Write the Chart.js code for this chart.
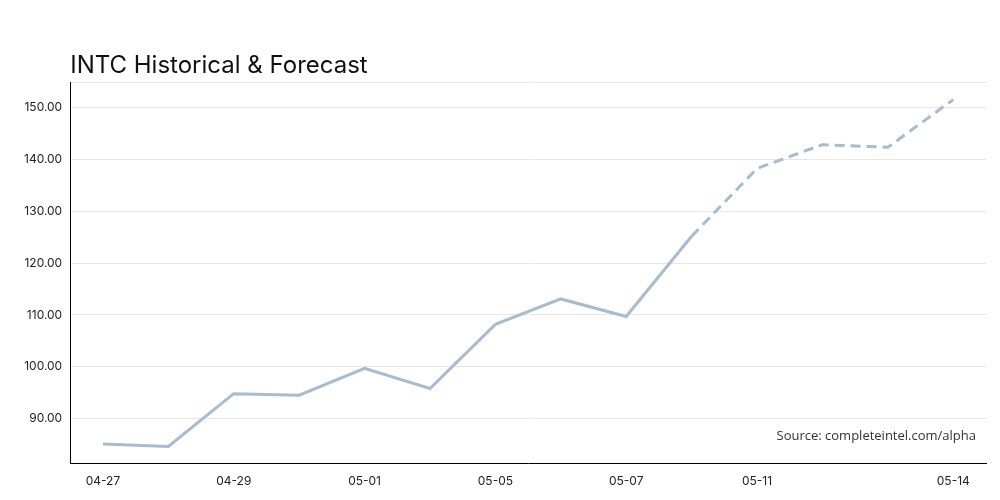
<!DOCTYPE html>
<html><head><meta charset="utf-8">
<script src="https://cdn.jsdelivr.net/npm/chart.js@4"></script>
<style>html,body{margin:0;padding:0;background:#fff}#w{width:1000px;height:500px}</style>
</head><body><div id="w"><canvas id="c"></canvas></div>
<script>
const categories=["04-27","04-28","04-29","04-30","05-01","05-04","05-05","05-06","05-07","05-08","05-11","05-12","05-13","05-14"];
const historical=[85.1,84.6,94.8,94.5,99.7,95.8,108.2,113.1,109.7,125.2,null,null,null,null];
const forecast=[null,null,null,null,null,null,null,null,null,125.2,138.3,142.9,142.4,151.6];
const shownTicks=["04-27","04-29","05-01","05-05","05-07","05-11","05-14"];
const color="#a7bccf";
const srcPlugin={id:"src",afterDraw(ch){const a=ch.chartArea,c=ch.ctx;c.save();
c.font="24px Inter, sans-serif";c.fillStyle="#111";c.textAlign="left";c.textBaseline="alphabetic";c.fillText("INTC Historical & Forecast",a.left,73);
c.font="13px 'Open Sans', sans-serif";c.fillStyle="#333";c.textAlign="right";c.textBaseline="middle";c.fillText("Source: completeintel.com/alpha",a.right-10,a.bottom-27);c.restore();}};
new Chart(document.getElementById("c"),{type:"line",
data:{labels:categories,datasets:[
{data:historical,borderColor:color,borderWidth:3,pointRadius:0,tension:0,spanGaps:false},
{data:forecast,borderColor:color,borderWidth:3,pointRadius:0,tension:0,borderDash:[10,6]}]},
options:{responsive:true,maintainAspectRatio:false,animation:false,
layout:{padding:{left:16,right:14,top:82,bottom:8}},
plugins:{legend:{display:false},tooltip:{enabled:false},title:{display:false}},
scales:{
x:{offset:true,grid:{display:false,drawTicks:true},border:{color:"#000"},
ticks:{autoSkip:false,maxRotation:0,color:"#222",font:{size:12,family:"Inter, sans-serif"},callback(v){const l=categories[v];return shownTicks.includes(l)?l:"";}}},
y:{min:81.3,max:155,grid:{color:"#e6e6e6",drawTicks:false},border:{color:"#000"},
ticks:{stepSize:10,padding:8,color:"#222",font:{size:12,family:"Inter, sans-serif"},callback:v=>v>=90&&v<=150?v.toFixed(2):""}}}},
plugins:[srcPlugin]});
</script></body></html>
